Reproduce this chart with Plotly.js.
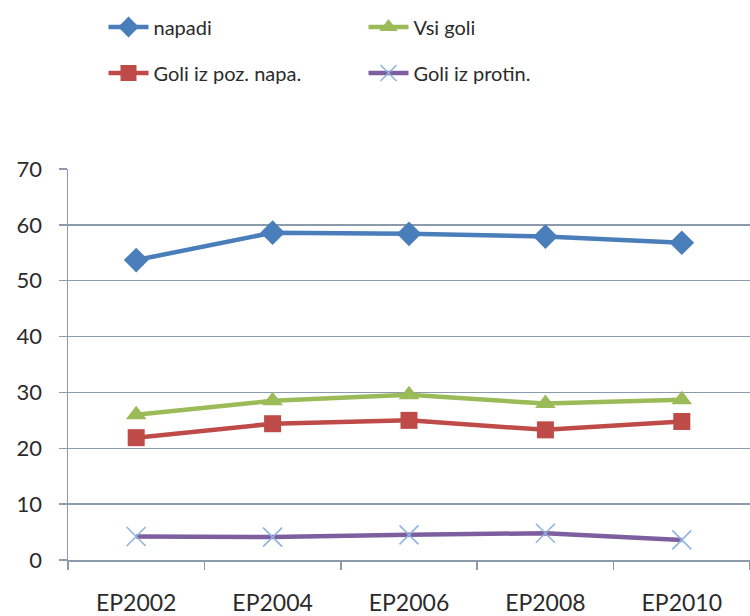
<!DOCTYPE html>
<html>
<head>
<meta charset="utf-8">
<script src="https://cdn.plot.ly/plotly-3.0.1.min.js"></script>
<style>
  html, body { margin: 0; padding: 0; background: #ffffff; }
  #chart { width: 750px; height: 616px; }
</style>
</head>
<body>
<div id="chart"></div>
<script>
// Tournaments (categories on the x axis)
const tournaments = ['EP2002', 'EP2004', 'EP2006', 'EP2008', 'EP2010'];

// Series values per tournament
const napadi = [53.7, 58.6, 58.4, 57.9, 56.8];
const vsiGoli = [26.0, 28.5, 29.6, 28.0, 28.7];
const goliPozNapad = [21.9, 24.4, 25.0, 23.3, 24.8];
const goliProtin = [4.2, 4.1, 4.5, 4.8, 3.6];

const yTicks = [0, 10, 20, 30, 40, 50, 60, 70];

const FONT = 'Lato, "Open Sans", sans-serif';
const TEXT = '#2b2b2b';

function series(name, values, color, marker, legend) {
  return {
    type: 'scatter',
    mode: 'lines+markers',
    name: name,
    x: tournaments,
    y: values,
    legend: legend,
    line: { color: color, width: 4.5 },
    marker: marker,
    cliponaxis: false
  };
}

const traces = [
  series('napadi', napadi, '#4a7ebb',
    { symbol: 'diamond', size: 19, color: '#4a7ebb' }, 'legend'),
  series('Vsi goli', vsiGoli, '#9bbb59',
    { symbol: 'triangle-up', size: 18, color: '#9bbb59' }, 'legend'),
  series('Goli iz poz. napa.', goliPozNapad, '#be4b48',
    { symbol: 'square', size: 17, color: '#be4b48' }, 'legend2'),
  series('Goli iz protin.', goliProtin, '#7d5fa0',
    { symbol: 'x-thin', size: 19, color: '#8db0e0', line: { color: '#8db0e0', width: 1.5 } }, 'legend2')
];

const legendCommon = {
  orientation: 'h',
  xref: 'container',
  yref: 'container',
  xanchor: 'left',
  yanchor: 'middle',
  x: 0.138,
  entrywidth: 205,
  entrywidthmode: 'pixels',
  itemwidth: 40,
  bgcolor: 'rgba(0,0,0,0)',
  font: { family: FONT, size: 20, color: TEXT },
  traceorder: 'normal'
};

const layout = {
  width: 750,
  height: 616,
  margin: { l: 68, r: 0, t: 169, b: 56 },
  paper_bgcolor: '#ffffff',
  plot_bgcolor: '#ffffff',
  showlegend: true,
  legend: Object.assign({}, legendCommon, { y: 1 - 27 / 616 }),
  legend2: Object.assign({}, legendCommon, { y: 1 - 73 / 616 }),
  xaxis: {
    type: 'category',
    categoryorder: 'array',
    categoryarray: tournaments,
    range: [-0.5, tournaments.length - 0.5],
    showgrid: false,
    showline: true,
    linecolor: '#8c9bab',
    linewidth: 1.5,
    ticks: 'outside',
    tickson: 'boundaries',
    ticklen: 8,
    tickcolor: '#8c9bab',
    tickwidth: 1.5,
    ticklabelstandoff: 22,
    tickfont: { family: FONT, size: 23, color: TEXT },
    zeroline: false,
    fixedrange: true
  },
  yaxis: {
    range: [0, 70],
    tickvals: yTicks,
    ticktext: yTicks.map(String),
    showgrid: true,
    gridcolor: '#8c9bab',
    gridwidth: 1.5,
    showline: true,
    linecolor: '#8c9bab',
    linewidth: 1.5,
    ticks: 'outside',
    ticklen: 8,
    tickcolor: '#8c9bab',
    tickwidth: 1.5,
    ticklabelstandoff: 12,
    tickfont: { family: FONT, size: 22, color: TEXT },
    zeroline: false,
    fixedrange: true
  }
};

Plotly.newPlot('chart', traces, layout, { staticPlot: true, displayModeBar: false });
</script>
</body>
</html>
